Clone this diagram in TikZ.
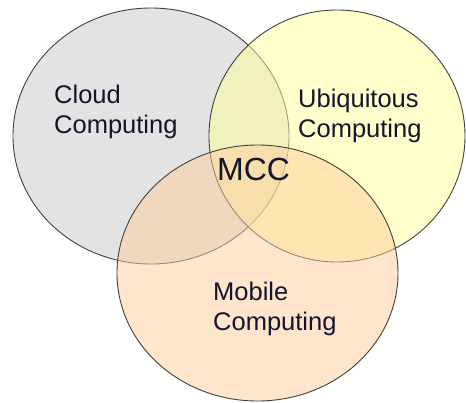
\documentclass[tikz,border=0pt]{standalone}
\usepackage{fontspec}
\setmainfont{Liberation Sans}
\begin{document}
\begin{tikzpicture}[x=1pt,y=-1pt,
  setcircle/.style={draw=black!75, line width=0.9pt, fill opacity=0.5},
  setlabel/.style={inner sep=0pt, align=left, text={rgb,255:red,20;green,20;blue,45}, font=\fontsize{25.5}{30}\selectfont}]
\useasboundingbox (0,0) rectangle (466,402);
\path[setcircle, fill={rgb,255:red,200;green,200;blue,200}] (151,136) ellipse [x radius=138, y radius=128];
\path[setcircle, fill={rgb,255:red,255;green,255;blue,153}] (337,136) ellipse [x radius=128, y radius=126];
\path[setcircle, fill={rgb,255:red,255;green,204;blue,153}] (257.5,273) ellipse [x radius=140.5, y radius=128];
\node[setlabel, anchor=north west] (cloud) at (54,84.5) {Cloud\\Computing};
\node[setlabel, anchor=north west] (ubi) at (298,89) {Ubiquitous\\Computing};
\node[setlabel, anchor=north west] (mob) at (213,281.5) {Mobile\\Computing};
\node[inner sep=0pt, anchor=base west, text={rgb,255:red,20;green,20;blue,45}, font=\fontsize{32}{36}\selectfont] (mcc) at (217,180) {MCC};
\end{tikzpicture}
\end{document}
